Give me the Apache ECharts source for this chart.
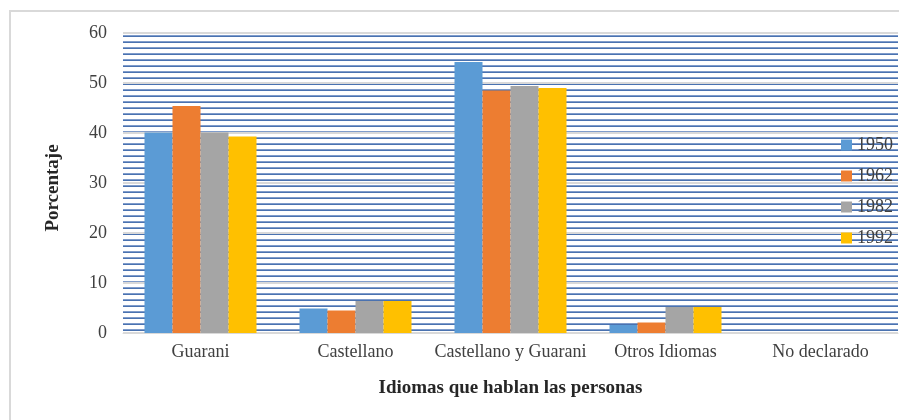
<!DOCTYPE html>
<html>
<head>
<meta charset="utf-8">
<script src="https://cdn.jsdelivr.net/npm/echarts@6/dist/echarts.min.js"></script>
<style>html,body{margin:0;padding:0;background:#fff}#c{width:899px;height:420px}</style>
</head>
<body>
<div id="c"></div>
<script>
var categories = ['Guarani', 'Castellano', 'Castellano y Guarani', 'Otros Idiomas', 'No declarado'];
var seriesNames = ['1950', '1962', '1982', '1992'];
var v1950 = [40.1, 4.9, 54.2, 1.6, 0];
var v1962 = [45.4, 4.5, 48.5, 2.1, 0];
var v1982 = [40.1, 6.4, 49.4, 5.2, 0];
var v1992 = [39.3, 6.4, 49.0, 5.2, 0];
var yTicks = [0, 10, 20, 30, 40, 50, 60];

var colors = ['#5b9bd5', '#ed7d31', '#a5a5a5', '#ffc000'];
var values = [v1950, v1962, v1982, v1992];
var font = 'Liberation Serif';

// horizontal-stripe pattern used as the plot-area fill
var tile = document.createElement('canvas');
tile.width = 4; tile.height = 6;
var tc = tile.getContext('2d');
tc.fillStyle = '#ffffff'; tc.fillRect(0, 0, 4, 6);
tc.fillStyle = '#4a72b0'; tc.fillRect(0, 0, 4, 1);
tc.fillStyle = '#7f9ccb'; tc.fillRect(0, 5, 4, 1);

var chart = echarts.init(document.getElementById('c'));
chart.setOption({
  animation: false,
  color: colors,
  graphic: [{
    type: 'rect', shape: {x: 10, y: 11, width: 1000, height: 1000},
    style: {fill: 'none', stroke: '#d9d9d9', lineWidth: 2}, silent: true
  }],
  grid: {left: 123, right: 1, top: 33, bottom: 87, containLabel: false,
    show: true, borderWidth: 0, backgroundColor: {image: tile, repeat: 'repeat'}},
  legend: {
    orient: 'vertical', left: 836, top: 131,
    itemWidth: 11, itemHeight: 11, itemGap: 13,
    icon: 'rect',
    textStyle: {fontFamily: font, fontSize: 18, color: '#404040'},
    data: seriesNames
  },
  xAxis: {
    type: 'category', data: categories,
    name: 'Idiomas que hablan las personas', nameLocation: 'middle', nameGap: 46,
    nameTextStyle: {fontFamily: font, fontSize: 19, fontWeight: 'bold', color: '#262626'},
    axisLine: {show: true, lineStyle: {color: '#d9d9d9'}},
    axisTick: {show: false},
    axisLabel: {interval: 0, fontFamily: font, fontSize: 18, color: '#404040', margin: 10}
  },
  yAxis: {
    type: 'value', min: yTicks[0], max: yTicks[yTicks.length - 1], interval: 10,
    name: 'Porcentaje', nameLocation: 'middle', nameGap: 60, nameRotate: 90,
    nameTextStyle: {fontFamily: font, fontSize: 19, fontWeight: 'bold', color: '#262626', padding: [0, 10, 0, 0]},
    axisLine: {show: false}, axisTick: {show: false},
    axisLabel: {fontFamily: font, fontSize: 18, color: '#404040', margin: 16},
    splitLine: {show: true, lineStyle: {color: '#d9d9d9', width: 2}}
  },
  series: seriesNames.map(function (n, i) {
    return {
      type: 'bar', name: n, data: values[i],
      barWidth: 28, barGap: '0%',
      itemStyle: {color: colors[i]}
    };
  })
});
</script>
</body>
</html>
